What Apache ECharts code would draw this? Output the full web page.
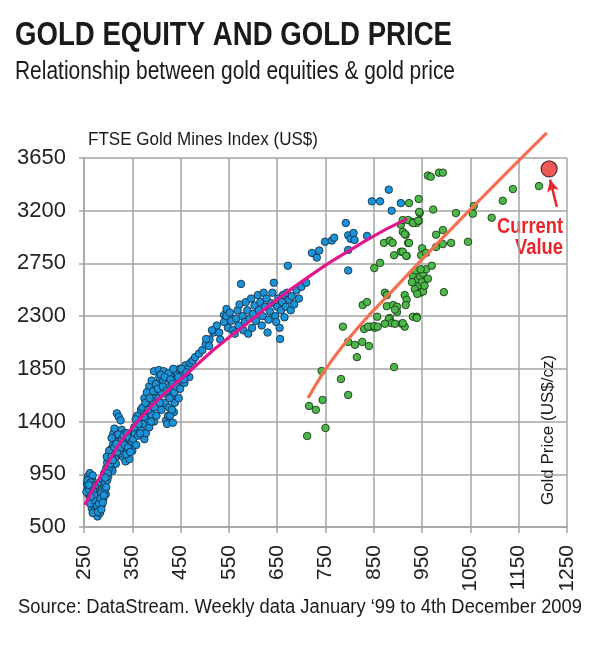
<!DOCTYPE html>
<html><head><meta charset="utf-8">
<script src="https://cdn.jsdelivr.net/npm/echarts@6/dist/echarts.min.js"></script>
<style>html,body{margin:0;padding:0;background:#fff}#c{width:600px;height:645px}</style>
</head><body><div id="c"></div>
<script>
// ---- data ----
const xTicks = [250,350,450,550,650,750,850,950,1050,1150,1250];
const yTicks = [500,950,1400,1850,2300,2750,3200,3650];

// blue: FTSE Gold Mines Index vs gold price (earlier period)
const blueX = [256,258,260,262,257,259,263,266,268,270,265,262,268,272,275,270,266,272,275,278,280,276,282,285,280,288,284,290,292,287,290,295,268,283,263,259,273,278,286,294,
255,257,261,264,267,269,271,274,277,279,281,284,286,289,291,293,296,298,264,260,
292,296,300,298,303,306,308,305,310,312,315,311,318,314,320,322,325,328,330,333,336,338,340,342,345,348,318,322,326,302,297,309,316,324,331,335,344,350,313,307,
301,304,307,310,313,317,319,321,327,329,332,334,337,339,341,343,346,349,299,294,
352,355,358,360,362,365,368,370,372,375,378,380,382,385,388,390,392,395,398,400,402,404,406,408,410,412,414,416,418,420,422,424,426,428,430,432,434,436,438,440,442,444,446,448,450,395,405,415,425,435,385,375,368,360,400,410,390,380,428,432,
455,460,465,470,475,458,468,480,488,495,502,510,518,525,530,540,545,550,
354,357,363,366,371,374,377,383,386,389,393,396,399,403,407,409,413,417,421,427,429,433,437,441,445,449,452,457,462,
503,509,515,532,540,545,548,552,555,558,562,565,568,570,572,575,578,580,583,585,588,590,593,596,598,600,603,606,610,612,615,618,620,622,625,628,630,632,635,638,640,643,646,648,650,652,655,656,658,660,662,665,668,670,672,675,678,680,685,690,695,700,
710,722,732,737,749,763,768,792,797,802,808,810,797,797,836,846,863,881,887,906];
const blueY = [870,930,900,960,820,780,850,910,940,880,800,740,760,820,860,700,660,640,610,590,650,700,720,760,800,830,880,900,850,690,740,780,620,620,700,840,750,780,790,820,
800,900,820,880,850,800,770,720,680,630,700,740,650,710,770,880,840,900,760,860,
960,1000,930,1050,1080,1020,1120,1160,1200,1150,1250,1300,1320,1090,1180,1230,1280,1330,1100,1150,1060,1190,1240,1120,1200,1290,1470,1440,1410,1150,1100,980,1040,1130,1210,1300,1080,1150,1340,1260,
990,1040,1100,1070,1180,1210,1140,1290,1180,1250,1280,1200,1120,1300,1180,1260,1140,1230,960,920,
1250,1300,1200,1350,1280,1400,1330,1450,1380,1250,1300,1480,1420,1350,1520,1460,1580,1400,1650,1550,1720,1600,1780,1680,1500,1820,1750,1640,1560,1410,1380,1450,1520,1700,1800,1620,1390,1480,1560,1760,1820,1680,1600,1850,1750,1830,1840,1830,1810,1850,1700,1600,1500,1450,1450,1650,1750,1650,1450,1500,
1800,1880,1850,1900,1920,1730,1780,1950,1980,2010,2060,2100,2160,2220,2160,2310,2360,2300,
1350,1420,1380,1300,1520,1440,1560,1500,1600,1400,1660,1520,1720,1680,1560,1800,1700,1780,1660,1600,1760,1720,1650,1700,1780,1680,1850,1760,1820,
2105,2045,2180,2100,2250,2300,2200,2330,2260,2180,2150,2280,2350,2220,2400,2575,2300,2180,2250,2420,2350,2150,2280,2450,2200,2320,2390,2260,2480,2350,2420,2220,2300,2500,2380,2450,2160,2270,2340,2410,2500,2585,2300,2250,2380,2450,2200,2105,2350,2420,2480,2290,2380,2500,2730,2440,2350,2470,2400,2520,2450,2550,
2585,2840,2800,2860,2935,2945,2970,3095,2990,2960,3010,2950,2690,2865,2985,3280,3280,3380,3200,3265];

// green: later period
const greenX = [712,716,730,744,750,742,782,797,786,797,811,826,840,815,830,842,852,827,836,838,851,858,857,851,863,871,883,889,892,873,877,877,890,898,898,894,883,881,887,894,873,892,906,918,906,910,916,921,908,914,914,918,916,923,943,929,939,943,945,931,941,946,944,950,929,935,946,952,940,937,952,948,931,939,962,968,985,993,944,973,910,921,931,942,914,923,910,917,950,958,979,993,979,993,1010,1020,1055,1057,1045,1094,1117,1138,1192,958,962,947,955,970,995,910,939];
const greenY = [1277,1533,1500,1585,1345,1832,1763,1627,2210,2080,2055,2080,2045,1950,2190,2210,2200,2395,2420,2210,2215,2210,2295,2710,2755,2925,2945,2925,2820,2500,2480,2385,2395,2380,2335,2355,2285,2275,2240,2235,2235,1865,2850,2815,3080,3020,2995,2925,2235,2210,2480,2440,2395,3265,3300,3105,3095,3115,3180,2640,2610,2640,2560,2590,2590,2530,2500,2510,2490,2690,2665,2820,2295,2295,3500,3490,3525,3525,3190,3210,3120,3120,3095,3115,3000,2925,2850,2815,2880,2840,2995,3035,2890,2915,2925,3180,3175,3240,2935,3140,3285,3385,3410,2700,2620,2700,2560,2730,2505,2240,2285];

// fitted curves
const pinkX = [252,283,351,490,573,697,836,919];
const pinkY = [688,927,1354,1909,2191,2584,2951,3130];
const orangeX = [714,784,904,1053,1208];
const orangeY = [1601,2037,2584,3224,3865];

// current value
const currentX = [1213];
const currentY = [3557];
const arrowFrom = [1229, 3233];
const arrowTo = [1215, 3465];

// ---- chart ----
const zip = (a,b) => a.map((v,i)=>[v,b[i]]);
const F = "'Liberation Sans Narrow','Liberation Sans',sans-serif";
const GRID = '#a4a4a4';
const cv = document.createElement('canvas').getContext('2d');
function fitText(text, font, x, y, targetW, fill, extra) {
  cv.font = font;
  const w = cv.measureText(text).width;
  const s = Math.min(1, targetW / w);
  return Object.assign({type:'text', x:x, y:y, scaleX:s,
    style:{text:text, font:font, fill:fill||'#1a1a1a', align:'left', verticalAlign:'top'}}, extra||{});
}
const chart = echarts.init(document.getElementById('c'), null, {renderer:'canvas'});
const curTxt1 = fitText('Current', "bold 22px "+F, 497, 216, 66, '#e8262a');
const curTxt2 = fitText('Value', "bold 22px "+F, 515, 237, 48, '#e8262a');
chart.setOption({
  animation:false,
  backgroundColor:'#fff',
  grid:{left:84,right:33,top:158,bottom:118,containLabel:false},
  xAxis:{type:'value',min:250,max:1250,interval:100,
    axisLine:{show:true,lineStyle:{color:GRID,width:1.5}},
    axisTick:{show:true,length:6,lineStyle:{color:GRID,width:1.5}},
    splitLine:{show:true,lineStyle:{color:GRID,width:1.5}},
    axisLabel:{rotate:90,margin:18,fontSize:21,color:'#222',fontFamily:F,
      formatter:v=>xTicks.includes(v)?String(v):''}},
  yAxis:{type:'value',min:500,max:3650,interval:450,
    axisLine:{show:true,lineStyle:{color:GRID,width:1.5}},
    axisTick:{show:true,length:5,lineStyle:{color:GRID,width:1.5}},
    splitLine:{show:true,lineStyle:{color:GRID,width:1.5}},
    axisLabel:{margin:18,fontSize:22,color:'#222',fontFamily:F,
      formatter:v=>yTicks.includes(v)?String(v):''}},
  series:[
    {type:'scatter',data:zip(blueX,blueY),symbolSize:7.5,
      itemStyle:{color:'#1a93d8',borderColor:'#15324a',borderWidth:0.9,opacity:1}},
    {type:'scatter',data:zip(greenX,greenY),symbolSize:7.5,
      itemStyle:{color:'#4cb848',borderColor:'#1d3a1c',borderWidth:0.9,opacity:1}},
    {type:'line',data:zip(pinkX,pinkY),smooth:0.5,symbol:'none',
      lineStyle:{color:'#e2168e',width:3.2},z:5},
    {type:'line',data:zip(orangeX,orangeY),smooth:0.5,symbol:'none',clip:false,
      lineStyle:{color:'#f5704e',width:3.2},z:5},
    {type:'scatter',data:zip(currentX,currentY),symbolSize:16,z:6,
      itemStyle:{color:'#e8302c',borderColor:'#2a1010',borderWidth:1.2},
      markLine:{silent:true,symbol:['none','arrow'],symbolSize:[9,12],
        lineStyle:{color:'#e8262a',width:2.5,type:'solid'},label:{show:false},
        data:[[{coord:arrowFrom},{coord:arrowTo}]]}}
  ],
  graphic:[
    fitText('GOLD EQUITY AND GOLD PRICE', "bold 33px "+F, 15, 19, 437),
    fitText('Relationship between gold equities & gold price', "25px "+F, 15, 60, 440),
    fitText('FTSE Gold Mines Index (US$)', "18px "+F, 88, 131, 230),
    fitText('Source: DataStream. Weekly data January \u201899 to 4th December 2009', "20px "+F, 18, 597, 564),
    {type:'text',x:548,y:430,rotation:Math.PI/2,style:{text:'Gold Price (US$/cz)',font:"17px "+F,fill:'#1a1a1a',align:'center',verticalAlign:'middle'}},
    curTxt1, curTxt2
  ]
});
</script></body></html>
